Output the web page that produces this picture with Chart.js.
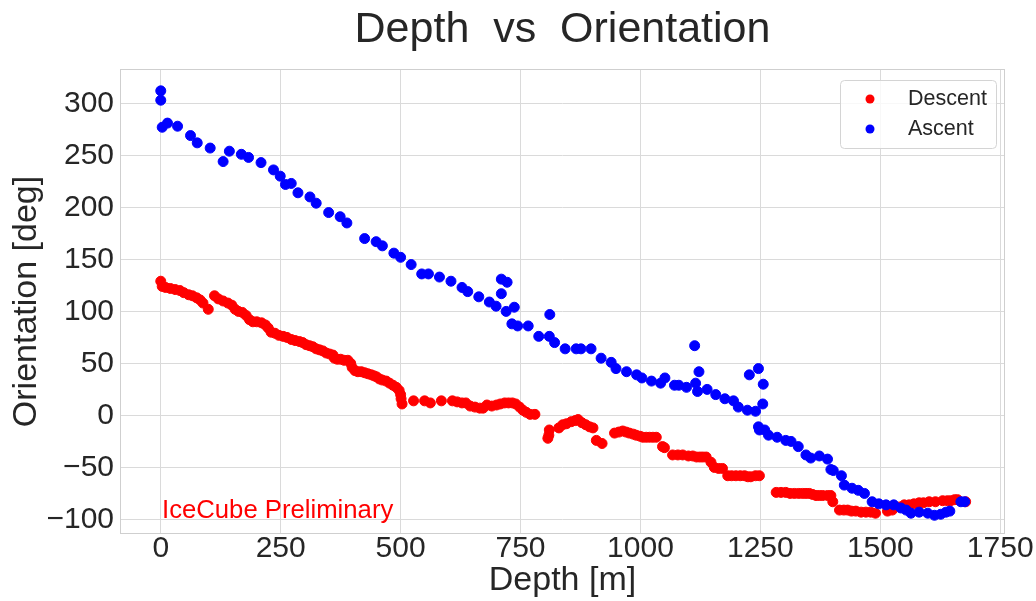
<!DOCTYPE html>
<html>
<head>
<meta charset="utf-8">
<script src="https://cdn.jsdelivr.net/npm/chart.js@4"></script>
<style>
  html, body { margin: 0; padding: 0; background: #fff; }
  #wrap { width: 1036px; height: 601px; }
</style>
</head>
<body>
<div id="wrap"><canvas id="depthChart" width="1036" height="601"></canvas></div>
<script>
// values
const descentDepth = [0, 3, 10, 20, 30, 40, 48, 58, 66, 75, 82, 88, 99, 112, 120, 130, 140, 148, 155, 162, 170, 178, 185, 192, 200, 210, 218, 224, 230, 238, 246, 255, 263, 272, 280, 289, 296, 303, 310, 317, 324, 331, 338, 345, 352, 359, 362, 368, 375, 382, 390, 396, 399, 405, 411, 418, 425, 432, 439, 445, 450, 456, 462, 470, 477, 484, 491, 497, 500, 501, 503, 527, 550, 562, 585, 608, 618, 628, 636, 645, 655, 665, 672, 680, 690, 700, 708, 717, 725, 733, 740, 748, 755, 762, 770, 780, 810, 807, 809, 830, 838, 846, 856, 864, 870, 878, 886, 894, 901, 908, 920, 946, 955, 963, 970, 977, 985, 991, 999, 1005, 1012, 1019, 1026, 1033, 1046, 1050, 1067, 1078, 1088, 1100, 1109, 1117, 1124, 1130, 1137, 1147, 1154, 1163, 1171, 1182, 1190, 1199, 1208, 1217, 1224, 1230, 1240, 1248, 1283, 1293, 1303, 1312, 1321, 1330, 1338, 1345, 1352, 1359, 1366, 1373, 1380, 1390, 1397, 1401, 1415, 1424, 1432, 1440, 1449, 1460, 1470, 1480, 1490, 1515, 1525, 1540, 1550, 1560, 1570, 1581, 1590, 1602, 1615, 1630, 1640, 1647, 1655, 1661, 1678];
const descentOrient = [129, 124, 123, 122, 121, 120, 118, 116, 115, 113, 111, 108, 102, 115, 112, 110, 108, 106, 102, 100, 99, 96, 92, 90, 90, 89, 87, 84, 80, 79, 77, 76, 75, 73, 72, 71, 70, 68, 67, 66, 64, 63, 62, 60, 59, 58, 55, 54, 54, 53, 53, 50, 46, 43, 42, 42, 41, 40, 39, 38, 37, 35, 34, 33, 31, 29, 27, 24, 20, 16, 11, 14, 14, 12, 14, 14, 13, 12, 12, 9, 8, 7, 7, 10, 9, 10, 11, 12, 12, 12, 11, 8, 5, 3, 1, 1, -14, -22, -19, -12, -9, -8, -6, -5, -4, -7, -9, -11, -12, -24, -27, -17, -16, -15, -16, -17, -18, -19, -20, -21, -21, -21, -21, -21, -30, -31, -38, -38, -38, -39, -39, -40, -40, -40, -40, -45, -50, -51, -51, -58, -58, -58, -58, -58, -59, -59, -58, -58, -74, -74, -74, -75, -75, -75, -75, -75, -75, -76, -77, -77, -77, -77, -77, -83, -91, -91, -91, -92, -92, -93, -93, -93, -94, -92, -91, -88, -86, -86, -85, -84, -84, -83, -83, -82, -82, -82, -81, -81, -83];

const ascentDepth = [0, 0, 3, 14, 35, 62, 76, 103, 130, 143, 168, 183, 209, 235, 249, 260, 272, 286, 311, 324, 350, 374, 388, 425, 449, 462, 486, 500, 522, 544, 558, 581, 605, 628, 640, 663, 685, 699, 710, 722, 710, 720, 737, 732, 744, 766, 788, 811, 810, 821, 843, 866, 876, 897, 918, 939, 949, 971, 992, 1003, 1023, 1042, 1051, 1071, 1080, 1096, 1113, 1122, 1115, 1119, 1139, 1157, 1176, 1194, 1204, 1223, 1240, 1227, 1246, 1256, 1255, 1246, 1248, 1259, 1267, 1285, 1303, 1314, 1329, 1345, 1355, 1373, 1390, 1397, 1402, 1419, 1425, 1441, 1454, 1467, 1483, 1497, 1512, 1528, 1543, 1554, 1564, 1581, 1599, 1613, 1626, 1637, 1645, 1668, 1676];
const ascentOrient = [312, 303, 277, 281, 278, 269, 262, 257, 244, 254, 251, 248, 243, 236, 230, 222, 223, 214, 210, 204, 195, 191, 185, 170, 167, 163, 156, 152, 145, 136, 136, 133, 129, 123, 119, 114, 109, 105, 131, 128, 117, 100, 104, 88, 86, 86, 76, 97, 76, 70, 64, 64, 64, 64, 55, 51, 45, 42, 39, 36, 33, 31, 36, 29, 29, 27, 67, 42, 31, 23, 25, 20, 16, 14, 8, 5, 4, 39, 45, 30, 11, -11, -14, -14, -19, -21, -24, -25, -30, -38, -41, -39, -42, -52, -53, -58, -67, -70, -72, -75, -83, -85, -86, -86, -89, -91, -94, -93, -94, -96, -95, -93, -92, -83, -83];

const xTicks = [0, 250, 500, 750, 1000, 1250, 1500, 1750];
const yTicks = [-100, -50, 0, 50, 100, 150, 200, 250, 300];

const FONT = '"Liberation Sans", Arial, sans-serif';
const TEXT = '#262626';
const GRID = '#dadada';

function toPoints(xs, ys) {
    return xs.map((x, i) => ({ x: x, y: ys[i] }));
}

function fmt(v) {
    return v < 0 ? '\u2212' + Math.abs(v) : String(v);
}

// frame, legend box and the watermark text
const decorations = {
    id: 'decorations',
    beforeDatasetsDraw(chart) {
        const a = chart.chartArea;
        const ctx = chart.ctx;
        ctx.save();
        ctx.strokeStyle = '#cfcfcf';
        ctx.lineWidth = 1;
        ctx.strokeRect(a.left + 0.5, a.top + 0.5, a.right - a.left - 1, a.bottom - a.top - 1);
        ctx.restore();
    },
    afterDatasetsDraw(chart) {
        const a = chart.chartArea;
        const ctx = chart.ctx;
        ctx.save();

        // legend
        const bx = a.right - 165, by = a.top + 11, bw = 156, bh = 68;
        ctx.beginPath();
        ctx.roundRect(bx + 0.5, by + 0.5, bw, bh, 4);
        ctx.fillStyle = 'rgba(255,255,255,0.8)';
        ctx.fill();
        ctx.strokeStyle = '#d4d4d4';
        ctx.lineWidth = 1;
        ctx.stroke();

        ctx.font = '21.5px ' + FONT;
        ctx.textBaseline = 'middle';
        ctx.textAlign = 'left';
        chart.data.datasets.forEach((ds, i) => {
            const cy = by + 19 + i * 30;
            ctx.beginPath();
            ctx.arc(bx + 30, cy, 4.5, 0, Math.PI * 2);
            ctx.fillStyle = ds.backgroundColor;
            ctx.fill();
            ctx.fillStyle = TEXT;
            ctx.fillText(ds.label, bx + 68, cy);
        });

        // watermark
        ctx.font = '25.7px ' + FONT;
        ctx.fillStyle = '#ff0000';
        ctx.textBaseline = 'middle';
        ctx.fillText('IceCube Preliminary', a.left + 42, a.bottom - 23);
        ctx.restore();
    }
};

const ctx = document.getElementById('depthChart').getContext('2d');
const depthChart = new Chart(ctx, {
    type: 'scatter',
    data: {
        datasets: [
            {
                label: 'Descent',
                data: toPoints(descentDepth, descentOrient),
                backgroundColor: '#ff0000',
                borderColor: '#ff0000',
                pointRadius: 5,
                pointBorderWidth: 1,
                order: 1
            },
            {
                label: 'Ascent',
                data: toPoints(ascentDepth, ascentOrient),
                backgroundColor: '#0000ff',
                borderColor: '#0000ff',
                pointRadius: 5,
                pointBorderWidth: 1,
                order: 0
            }
        ]
    },
    options: {
        responsive: false,
        animation: false,
        layout: {
            padding: { left: 0, right: 31, top: 0, bottom: 0 }
        },
        scales: {
            x: {
                type: 'linear',
                min: -85,
                max: 1760,
                afterBuildTicks: (axis) => { axis.ticks = xTicks.map(v => ({ value: v })); },
                afterFit: (axis) => {
                    axis.height = 67;
                    axis.paddingLeft = 0;
                    axis.paddingRight = 0;
                },
                grid: { color: GRID, drawTicks: false },
                border: { display: false },
                ticks: {
                    color: TEXT,
                    padding: 0,
                    maxRotation: 0,
                    autoSkip: false,
                    font: { size: 30, family: FONT, lineHeight: 1 },
                    callback: (v) => fmt(v)
                },
                title: {
                    display: true,
                    text: 'Depth [m]',
                    color: TEXT,
                    padding: { top: 0, bottom: 0 },
                    font: { size: 34, family: FONT }
                }
            },
            y: {
                type: 'linear',
                min: -114,
                max: 333,
                afterBuildTicks: (axis) => { axis.ticks = yTicks.map(v => ({ value: v })); },
                afterFit: (axis) => { axis.width = 120; },
                grid: { color: GRID, drawTicks: false },
                border: { display: false },
                ticks: {
                    color: TEXT,
                    padding: 6,
                    autoSkip: false,
                    font: { size: 30, family: FONT },
                    callback: (v) => fmt(v)
                },
                title: {
                    display: true,
                    text: 'Orientation [deg]',
                    color: TEXT,
                    padding: { top: 6, bottom: 0 },
                    font: { size: 34, family: FONT }
                }
            }
        },
        plugins: {
            title: {
                display: true,
                text: 'Depth  vs  Orientation',
                color: TEXT,
                fullSize: false,
                padding: { top: 4, bottom: 13.4 },
                font: { size: 43, family: FONT, weight: 'normal' }
            },
            legend: { display: false },
            tooltip: { enabled: false }
        }
    },
    plugins: [decorations]
});
</script>
</body>
</html>
